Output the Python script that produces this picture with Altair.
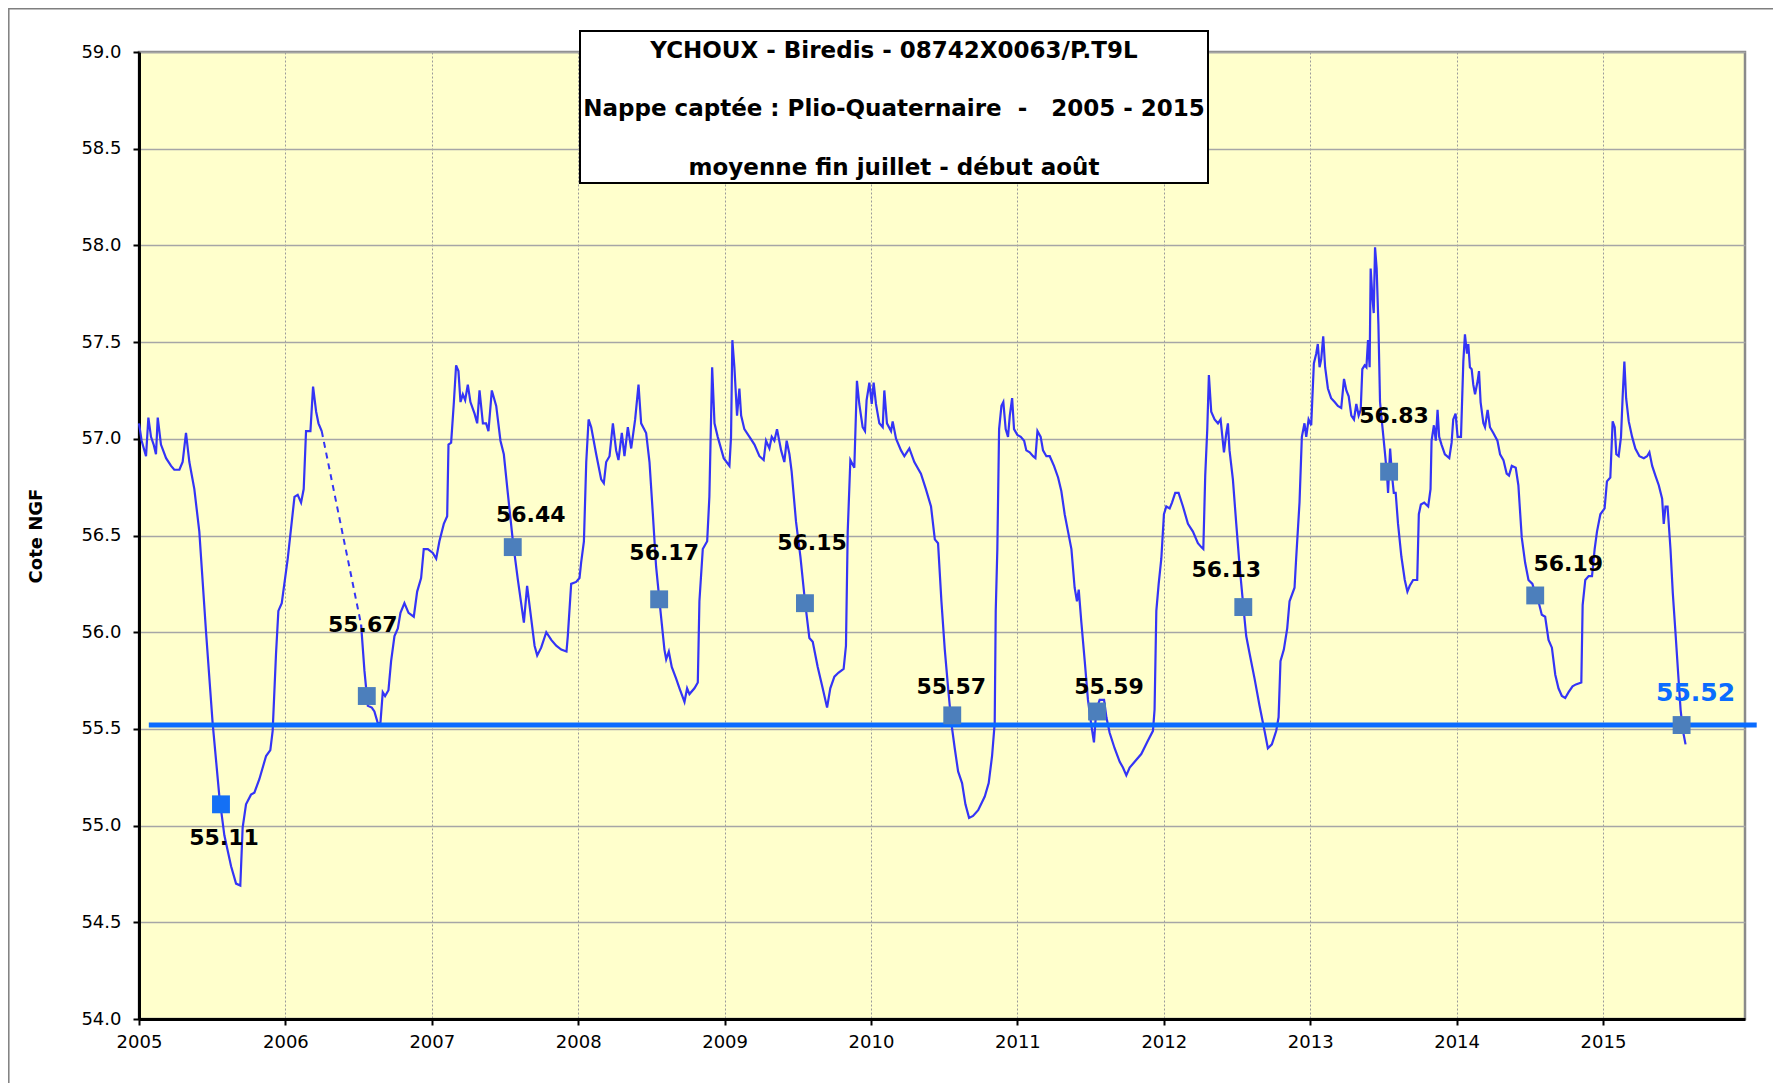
import altair as alt
import pandas as pd

# ---------------- data ----------------
TITLE_LINES = [
    "YCHOUX - Biredis - 08742X0063/P.T9L",
    "Nappe captée : Plio-Quaternaire\u00a0 -\u00a0\u00a0 2005 - 2015",
    "moyenne fin juillet - début août",
]
Y_TITLE = "Cote NGF"
X_TICKS = list(range(2005, 2016))
Y_TICKS = [54.0, 54.5, 55.0, 55.5, 56.0, 56.5, 57.0, 57.5, 58.0, 58.5, 59.0]

seg1_year = [2005.000, 2005.018, 2005.048, 2005.064, 2005.082, 2005.100, 2005.116, 2005.128, 2005.150,
             2005.185, 2005.219, 2005.241, 2005.276, 2005.298, 2005.321, 2005.344, 2005.378, 2005.412,
             2005.458, 2005.503, 2005.549, 2005.583, 2005.629, 2005.663, 2005.692, 2005.708, 2005.731,
             2005.765, 2005.788, 2005.822, 2005.868, 2005.897, 2005.913, 2005.936, 2005.952, 2005.975,
             2006.016, 2006.062, 2006.084, 2006.107, 2006.125, 2006.141, 2006.171, 2006.189, 2006.210,
             2006.226, 2006.248]
seg1_level = [57.08, 56.99, 56.91, 57.11, 57.01, 56.97, 56.92, 57.11, 56.97,
              56.90, 56.86, 56.84, 56.84, 56.88, 57.03, 56.88, 56.74, 56.52,
              56.00, 55.53, 55.15, 54.95, 54.79, 54.70, 54.69, 54.99, 55.11,
              55.16, 55.17, 55.24, 55.36, 55.39, 55.49, 55.89, 56.11, 56.15,
              56.38, 56.70, 56.71, 56.67, 56.74, 57.04, 57.04, 57.27, 57.14,
              57.08, 57.04]

gap_year = [2006.248, 2006.517]
gap_level = [57.04, 56.04]

seg2_year = [
    2006.517, 2006.540, 2006.563, 2006.590, 2006.608, 2006.631, 2006.649, 2006.665, 2006.681, 2006.704,
    2006.722, 2006.745, 2006.768, 2006.786, 2006.813, 2006.841, 2006.877, 2006.900, 2006.927, 2006.945,
    2006.973, 2007.007, 2007.030, 2007.052, 2007.082, 2007.105, 2007.114, 2007.132, 2007.150, 2007.166,
    2007.182, 2007.196, 2007.212, 2007.228, 2007.246, 2007.264, 2007.292, 2007.310, 2007.326, 2007.349,
    2007.371, 2007.387, 2007.410, 2007.440, 2007.469, 2007.492, 2007.519, 2007.554, 2007.588, 2007.629,
    2007.651, 2007.679, 2007.702, 2007.720, 2007.747, 2007.782, 2007.816, 2007.850, 2007.884, 2007.920,
    2007.929, 2007.952, 2007.986, 2008.009, 2008.020, 2008.039, 2008.055, 2008.071, 2008.089, 2008.123,
    2008.157, 2008.175, 2008.191, 2008.214, 2008.237, 2008.259, 2008.275, 2008.298, 2008.316, 2008.339,
    2008.362, 2008.389, 2008.412, 2008.430, 2008.464, 2008.487, 2008.510, 2008.532, 2008.562, 2008.589,
    2008.601, 2008.619, 2008.639, 2008.669, 2008.692, 2008.726, 2008.744, 2008.760, 2008.794, 2008.817,
    2008.828, 2008.851, 2008.881, 2008.896, 2008.915, 2008.931, 2008.953, 2008.994, 2009.033, 2009.044,
    2009.053, 2009.067, 2009.085, 2009.101, 2009.113, 2009.135, 2009.170, 2009.204, 2009.238, 2009.267,
    2009.283, 2009.306, 2009.322, 2009.340, 2009.358, 2009.386, 2009.408, 2009.424, 2009.443, 2009.458,
    2009.488, 2009.518, 2009.549, 2009.579, 2009.602, 2009.636, 2009.670, 2009.700, 2009.722, 2009.750,
    2009.777, 2009.813, 2009.829, 2009.841, 2009.859, 2009.886, 2009.904, 2009.920, 2009.943, 2009.959,
    2009.970, 2009.989, 2010.005, 2010.018, 2010.034, 2010.057, 2010.080, 2010.091, 2010.109, 2010.137,
    2010.148, 2010.171, 2010.205, 2010.228, 2010.262, 2010.296, 2010.341, 2010.375, 2010.410, 2010.436,
    2010.458, 2010.481, 2010.504, 2010.527, 2010.549, 2010.572, 2010.595, 2010.622, 2010.645, 2010.670,
    2010.697, 2010.732, 2010.777, 2010.804, 2010.827, 2010.845, 2010.852, 2010.863, 2010.875, 2010.891,
    2010.904, 2010.920, 2010.936, 2010.948, 2010.964, 2010.977, 2011.000, 2011.023, 2011.046, 2011.061,
    2011.084, 2011.107, 2011.123, 2011.137, 2011.159, 2011.175, 2011.198, 2011.221, 2011.250, 2011.278,
    2011.300, 2011.323, 2011.346, 2011.369, 2011.391, 2011.407, 2011.419, 2011.437, 2011.460, 2011.482,
    2011.505, 2011.523, 2011.539, 2011.562, 2011.592, 2011.608, 2011.630, 2011.664, 2011.699, 2011.721,
    2011.744, 2011.767, 2011.801, 2011.846, 2011.892, 2011.926, 2011.937, 2011.949, 2011.965, 2011.983,
    2012.001, 2012.017, 2012.040, 2012.056, 2012.078, 2012.101, 2012.131, 2012.165, 2012.199, 2012.233,
    2012.256, 2012.270, 2012.283, 2012.297, 2012.308, 2012.324, 2012.347, 2012.370, 2012.388, 2012.411,
    2012.427, 2012.438, 2012.449, 2012.472, 2012.495, 2012.518, 2012.540, 2012.563, 2012.586, 2012.620,
    2012.654, 2012.688, 2012.711, 2012.738, 2012.768, 2012.784, 2012.797, 2012.820, 2012.843, 2012.859,
    2012.893, 2012.904, 2012.927, 2012.943, 2012.961, 2012.973, 2012.989, 2013.007, 2013.025, 2013.041,
    2013.052, 2013.064, 2013.075, 2013.089, 2013.102, 2013.121, 2013.143, 2013.167, 2013.189, 2013.212,
    2013.231, 2013.247, 2013.263, 2013.281, 2013.299, 2013.315, 2013.331, 2013.345, 2013.356, 2013.372,
    2013.384, 2013.395, 2013.406, 2013.413, 2013.425, 2013.434, 2013.443, 2013.454, 2013.466, 2013.477,
    2013.491, 2013.509, 2013.525, 2013.532, 2013.546, 2013.559, 2013.571, 2013.584, 2013.600, 2013.623,
    2013.646, 2013.664, 2013.680, 2013.703, 2013.731, 2013.742, 2013.756, 2013.779, 2013.806, 2013.822,
    2013.829, 2013.845, 2013.858, 2013.870, 2013.881, 2013.897, 2013.920, 2013.950, 2013.966, 2013.977,
    2013.993, 2014.007, 2014.030, 2014.046, 2014.057, 2014.071, 2014.080, 2014.091, 2014.103, 2014.114,
    2014.126, 2014.144, 2014.153, 2014.164, 2014.183, 2014.194, 2014.212, 2014.228, 2014.251, 2014.279,
    2014.297, 2014.320, 2014.342, 2014.358, 2014.377, 2014.404, 2014.422, 2014.445, 2014.468, 2014.491,
    2014.518, 2014.537, 2014.559, 2014.582, 2014.605, 2014.628, 2014.651, 2014.674, 2014.696, 2014.719,
    2014.742, 2014.765, 2014.792, 2014.815, 2014.852, 2014.861, 2014.879, 2014.902, 2014.925, 2014.943,
    2014.959, 2014.982, 2015.011, 2015.027, 2015.050, 2015.066, 2015.080, 2015.091, 2015.107, 2015.123,
    2015.135, 2015.146, 2015.158, 2015.176, 2015.199, 2015.221, 2015.249, 2015.279, 2015.301, 2015.317,
    2015.336, 2015.358, 2015.381, 2015.404, 2015.415, 2015.427, 2015.441, 2015.461, 2015.477, 2015.495,
    2015.514, 2015.530, 2015.546, 2015.564]
seg2_level = [
    56.04, 55.80, 55.62, 55.61, 55.59, 55.53, 55.53, 55.69, 55.67, 55.70,
    55.85, 55.98, 56.02, 56.10, 56.15, 56.10, 56.08, 56.21, 56.28, 56.43,
    56.43, 56.41, 56.38, 56.47, 56.56, 56.60, 56.97, 56.98, 57.18, 57.38,
    57.35, 57.19, 57.23, 57.20, 57.28, 57.19, 57.13, 57.08, 57.25, 57.08,
    57.08, 57.04, 57.25, 57.17, 56.99, 56.92, 56.72, 56.47, 56.27, 56.05,
    56.24, 56.07, 55.93, 55.88, 55.92, 56.00, 55.96, 55.93, 55.91, 55.90,
    55.98, 56.25, 56.26, 56.28, 56.36, 56.47, 56.88, 57.10, 57.06, 56.92,
    56.79, 56.77, 56.88, 56.91, 57.08, 56.94, 56.89, 57.03, 56.91, 57.06,
    56.95, 57.10, 57.28, 57.08, 57.03, 56.88, 56.61, 56.34, 56.11, 55.91,
    55.86, 55.90, 55.82, 55.76, 55.71, 55.64, 55.71, 55.68, 55.71, 55.74,
    56.16, 56.43, 56.47, 56.70, 57.37, 57.08, 57.01, 56.90, 56.86, 57.01,
    57.51, 57.37, 57.12, 57.26, 57.12, 57.05, 57.01, 56.97, 56.91, 56.89,
    56.99, 56.95, 57.01, 56.99, 57.05, 56.94, 56.88, 56.99, 56.92, 56.83,
    56.57, 56.39, 56.16, 55.97, 55.95, 55.82, 55.71, 55.61, 55.71, 55.77,
    55.79, 55.81, 55.93, 56.52, 56.89, 56.85, 57.30, 57.18, 57.06, 57.04,
    57.20, 57.29, 57.18, 57.29, 57.18, 57.08, 57.06, 57.25, 57.08, 57.04,
    57.09, 57.00, 56.94, 56.91, 56.95, 56.88, 56.82, 56.74, 56.65, 56.48,
    56.46, 56.16, 55.91, 55.71, 55.53, 55.40, 55.28, 55.22, 55.11, 55.04,
    55.05, 55.08, 55.15, 55.22, 55.36, 55.53, 56.11, 56.43, 57.05, 57.17,
    57.19, 57.05, 57.01, 57.12, 57.21, 57.05, 57.02, 57.01, 56.99, 56.94,
    56.93, 56.91, 56.90, 57.04, 57.01, 56.94, 56.91, 56.91, 56.86, 56.80,
    56.73, 56.61, 56.52, 56.43, 56.23, 56.16, 56.22, 56.05, 55.85, 55.65,
    55.52, 55.43, 55.60, 55.65, 55.65, 55.56, 55.48, 55.40, 55.33, 55.30,
    55.26, 55.30, 55.33, 55.37, 55.44, 55.49, 55.60, 56.11, 56.25, 56.38,
    56.61, 56.65, 56.64, 56.67, 56.72, 56.72, 56.65, 56.56, 56.52, 56.46,
    56.44, 56.43, 56.81, 57.05, 57.33, 57.14, 57.10, 57.08, 57.10, 56.93,
    57.03, 57.08, 56.94, 56.79, 56.56, 56.34, 56.16, 55.98, 55.89, 55.76,
    55.62, 55.49, 55.40, 55.42, 55.49, 55.56, 55.85, 55.91, 56.02, 56.16,
    56.23, 56.38, 56.67, 57.01, 57.08, 57.01, 57.10, 57.07, 57.39, 57.44,
    57.49, 57.37, 57.41, 57.53, 57.37, 57.26, 57.21, 57.19, 57.17, 57.16,
    57.31, 57.25, 57.22, 57.12, 57.10, 57.18, 57.12, 57.15, 57.36, 57.38,
    57.37, 57.51, 57.37, 57.88, 57.73, 57.65, 57.99, 57.88, 57.59, 57.19,
    57.08, 56.94, 56.81, 56.72, 56.95, 56.81, 56.72, 56.72, 56.56, 56.39,
    56.27, 56.21, 56.24, 56.27, 56.27, 56.61, 56.66, 56.67, 56.65, 56.74,
    56.99, 57.07, 56.99, 57.15, 57.01, 56.97, 56.92, 56.90, 56.98, 57.10,
    57.13, 57.01, 57.01, 57.40, 57.54, 57.44, 57.49, 57.37, 57.36, 57.28,
    57.23, 57.30, 57.35, 57.19, 57.08, 57.06, 57.15, 57.06, 57.03, 56.99,
    56.92, 56.89, 56.82, 56.81, 56.86, 56.85, 56.76, 56.49, 56.36, 56.27,
    56.25, 56.20, 56.16, 56.09, 56.08, 55.96, 55.92, 55.78, 55.71, 55.67,
    55.66, 55.69, 55.72, 55.73, 55.74, 56.14, 56.27, 56.29, 56.29, 56.43,
    56.52, 56.61, 56.64, 56.78, 56.80, 57.09, 57.06, 56.92, 56.91, 57.01,
    57.23, 57.40, 57.21, 57.09, 57.01, 56.95, 56.91, 56.90, 56.91, 56.93,
    56.86, 56.81, 56.76, 56.69, 56.56, 56.65, 56.65, 56.43, 56.20, 56.00,
    55.78, 55.60, 55.49, 55.42]

# late-July / early-August means
mark_year = [2005.56, 2006.556, 2007.553, 2008.553, 2009.549, 2010.555,
             2011.544, 2012.543, 2013.539, 2014.537, 2015.537]
mark_level = [55.11, 55.67, 56.44, 56.17, 56.15, 55.57, 55.59, 56.13, 56.83, 56.19, 55.52]
mark_label = ["55.11", "55.67", "56.44", "56.17", "56.15", "55.57", "55.59",
              "56.13", "56.83", "56.19", "55.52"]

ref_level = 55.52
ref_start = 2005.067
ref_end = 2016.05

# ---------------- layout / style ----------------
W, H = 1606, 967
X_DOMAIN = [2005, 2015.97]
Y_DOMAIN = [54, 59]
FONT = "DejaVu Sans"
LINE_COLOR = "#3434F6"
REF_COLOR = "#0A6CFF"
SQ_COLOR = "#4C7FBC"
FIRST_SQ_COLOR = "#1470F5"
LABEL_OFFSETS = [(3, 34), (-4, -71), (18, -32), (5, -46), (7, -60), (-1, -28),
                 (12, -24), (-17, -37), (5, -56), (33, -31), (14, -32)]

df1 = pd.DataFrame({"yr": seg1_year, "v": seg1_level})
dfg = pd.DataFrame({"yr": gap_year, "v": gap_level})
df2 = pd.DataFrame({"yr": seg2_year, "v": seg2_level})
dfm = pd.DataFrame({"yr": mark_year, "v": mark_level, "label": mark_label})
dfr = pd.DataFrame({"yr": [ref_start], "yr2": [ref_end], "v": [ref_level]})

xs = alt.Scale(domain=X_DOMAIN, nice=False, zero=False)
ys = alt.Scale(domain=Y_DOMAIN, nice=False, zero=False)

x_axis = alt.Axis(values=X_TICKS, format="d", title=None, grid=True, gridDash=[2, 2],
                  gridColor="#9a9a9a", gridWidth=1, domainColor="black", domainWidth=3,
                  tickColor="black", tickWidth=2, tickSize=6, labelFont=FONT, labelFontSize=18,
                  labelColor="black", labelPadding=8, labelFlush=False)
y_axis = alt.Axis(values=Y_TICKS, format=".1f", title=Y_TITLE, grid=True, gridColor="#a6a6a6",
                  gridWidth=1.5, domainColor="black", domainWidth=3, tickColor="black",
                  tickWidth=2, tickSize=6, labelFont=FONT, labelFontSize=18, labelColor="black",
                  labelPadding=12, titleFont=FONT, titleFontSize=18, titleFontWeight="bold",
                  titleColor="black", titleAngle=270, titleX=-98, titleY=H / 2,
                  titleAlign="center", titleBaseline="alphabetic")

X = alt.X("yr:Q", scale=xs, axis=x_axis)
Y = alt.Y("v:Q", scale=ys, axis=y_axis)
Xn = alt.X("yr:Q", scale=xs)
Yn = alt.Y("v:Q", scale=ys)

one = alt.Data(values=[{}])

# outer chart frame (right and bottom edges fall outside the page, as in the original)
frame = alt.Chart(one).mark_rect(fillOpacity=0, stroke="#7f7f7f", strokeWidth=1.5).encode(
    x=alt.value(-130.2), x2=alt.value(1800), y=alt.value(-43.2), y2=alt.value(1200))

line1 = alt.Chart(df1).mark_line(color=LINE_COLOR, strokeWidth=2.2).encode(x=X, y=Y)
line_gap = alt.Chart(dfg).mark_line(color=LINE_COLOR, strokeWidth=2, strokeDash=[6, 5]).encode(x=Xn, y=Yn)
line2 = alt.Chart(df2).mark_line(color=LINE_COLOR, strokeWidth=2.2).encode(x=Xn, y=Yn)

ref = alt.Chart(dfr).mark_rule(color=REF_COLOR, strokeWidth=5).encode(
    x=Xn, x2=alt.X2("yr2:Q"), y=Yn)

squares = alt.Chart(dfm.iloc[1:]).mark_square(size=320, color=SQ_COLOR, opacity=1).encode(x=Xn, y=Yn)
first_sq = alt.Chart(dfm.iloc[:1]).mark_square(size=320, color=FIRST_SQ_COLOR, opacity=1).encode(x=Xn, y=Yn)

labels = []
n = len(mark_label)
for i, (dx, dy) in enumerate(LABEL_OFFSETS):
    last = i == n - 1
    labels.append(
        alt.Chart(dfm.iloc[i:i + 1]).mark_text(
            font=FONT, fontWeight="bold", fontSize=25 if last else 22,
            color=REF_COLOR if last else "black", dx=dx, dy=dy, baseline="middle", align="center"
        ).encode(x=Xn, y=Yn, text="label:N")
    )

box = alt.Chart(one).mark_rect(fill="white", stroke="black", strokeWidth=2).encode(
    x=alt.value(441), x2=alt.value(1069), y=alt.value(-21), y2=alt.value(131))

title_y = [6, 64, 123]
title_layers = []
for t, yy in zip(TITLE_LINES, title_y):
    title_layers.append(
        alt.Chart(alt.Data(values=[{"t": t}])).mark_text(
            font=FONT, fontWeight="bold", fontSize=23, color="black",
            align="center", baseline="alphabetic"
        ).encode(x=alt.value(755), y=alt.value(yy), text="t:N")
    )

chart = alt.layer(
    line1, frame, line_gap, line2, ref, squares, first_sq, *labels, box, *title_layers
).properties(
    width=W, height=H,
    padding={"left": 131, "top": 44, "right": 28, "bottom": 64},
    autosize=alt.AutoSizeParams(type="none"),
    background="white",
).configure_view(
    fill="#FFFFCC", stroke="#8a8a8a", strokeWidth=2.5
)

chart.save("out.html", embed_options={"renderer": "svg", "actions": False})
